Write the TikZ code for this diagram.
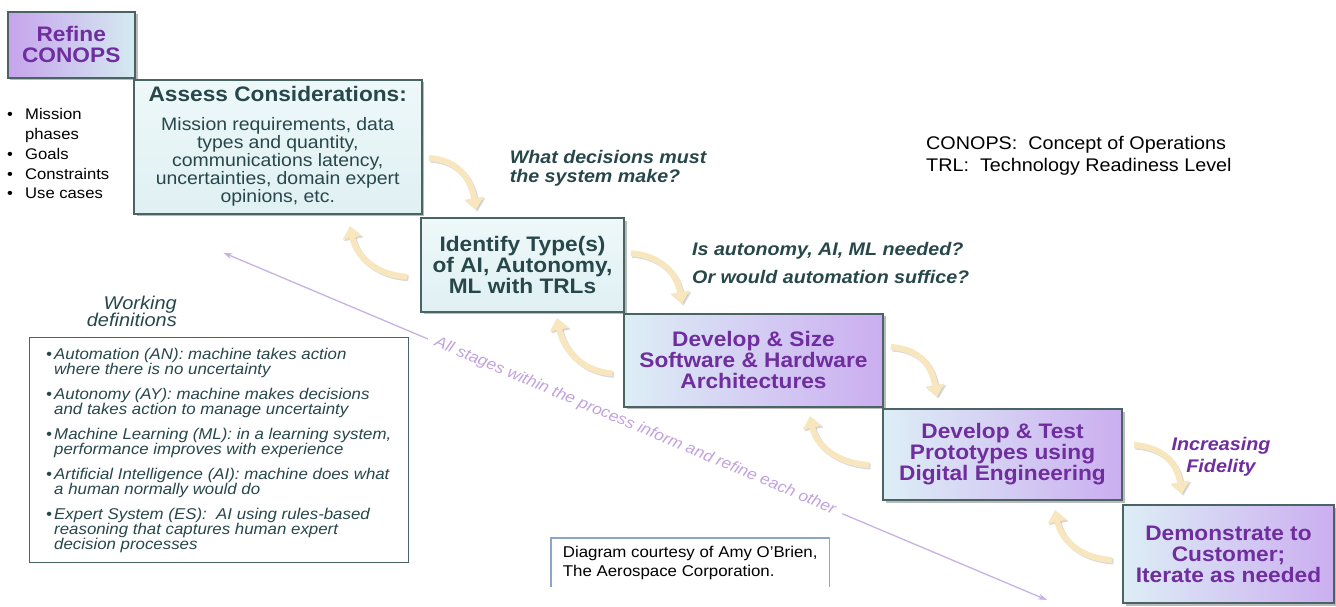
\documentclass[tikz,border=0pt]{standalone}
\usepackage{fontspec}
\setmainfont{Liberation Sans}[FakeStretch=1.08]
\usetikzlibrary{arrows.meta,shadows,calc}

\definecolor{slate}{HTML}{27474A}
\definecolor{plum}{HTML}{6F2D9E}
\definecolor{edge}{HTML}{4A6464}
\definecolor{tealfill}{HTML}{DFF0F3}
\definecolor{tealtop}{HTML}{EEF8F9}
\definecolor{bluelt}{HTML}{DDEEF6}
\definecolor{lilac}{HTML}{CBAEF0}
\definecolor{refleft}{HTML}{C6A3EC}
\definecolor{refright}{HTML}{D4EBF0}
\definecolor{cream}{HTML}{F8E6BF}
\definecolor{lavline}{HTML}{C9B0E3}
\definecolor{lavtext}{HTML}{C2A2DE}
\definecolor{capedge}{HTML}{8BA6C9}

\newcommand\fs[2]{\fontsize{#1}{#2}\selectfont}
\newcommand\dbul{\makebox[8pt][l]{•}}
\newcommand\dind{\hspace*{8pt}}
\newcommand\lbul{\makebox[18pt][l]{•}}
\newcommand\lind{\hspace*{18pt}}

\tikzset{
  stage/.style={draw=edge, line width=2pt, inner sep=0pt, align=center,
    drop shadow={shadow xshift=2.5pt, shadow yshift=-2.5pt, opacity=0.45, fill=black!60}},
  tealstage/.style={stage, top color=tealtop, bottom color=tealfill, text=slate},
  lilacstage/.style={stage, left color=bluelt, right color=lilac, text=plum,
    font=\fs{21}{21}\bfseries},
  flow/.style={draw=cream, line width=6pt, -{Triangle[length=12pt,width=19pt]}},
  flowshade/.style={draw=black!50, opacity=0.3, line width=6pt,
    -{Triangle[length=12pt,width=19pt]}, transform canvas={shift={(1.5pt,-1.5pt)}}},
  plain/.style={inner sep=0pt, align=left},
}

% curved feedback / feed-forward arrow between two stages
\newcommand\flowarrow[4]{%
  \draw[flowshade] #1 .. controls #2 and #3 .. #4;
  \draw[flow] #1 .. controls #2 and #3 .. #4;}

\begin{document}
\begin{tikzpicture}[x=1pt,y=-1pt]
\useasboundingbox (0,0) rectangle (1336,606);

% process loop spanning all stages
\coordinate (loopA) at (223.3,252.7);
\coordinate (loopB) at (1047,600);
\draw[draw=lavline, line width=1.3pt,
  {Stealth[length=9pt,width=6pt]}-{Stealth[length=9pt,width=6pt]}]
  (loopA) -- (loopB)
  node[midway, sloped, fill=white, inner xsep=8pt, inner ysep=1pt, text=lavtext,
       font=\fs{15.8}{16}\itshape] (loopnote)
  {All stages within the process inform and refine each other};

% stages
\node[stage, left color=refleft, right color=refright, text=plum,
  font=\fs{21}{21.7}\bfseries, minimum width=127.5pt, minimum height=66pt]
  (refine) at (71.25,44.5) {Refine\\CONOPS};

\node[tealstage, minimum width=287.5pt, minimum height=134pt, text width=270pt]
  (assess) at (277.75,146.5)
  {{\fs{21}{24}\bfseries\spaceskip=0.3em Assess Considerations:\par}\vspace{10pt}%
   \fs{18}{18.3}\spaceskip=0.29em Mission requirements, data\\ types and quantity,\\
   communications latency,\\ uncertainties, domain expert\\ opinions, etc.};

\node[tealstage, font=\fs{21}{21}\bfseries, minimum width=203pt, minimum height=93.5pt]
  (ident) at (522.5,264.75) {Identify Type(s)\\of AI, Autonomy,\\ML with TRLs};

\node[lilacstage, minimum width=259pt, minimum height=93pt]
  (dsize) at (753.5,360) {Develop \& Size\\Software \& Hardware\\Architectures};

\node[lilacstage, minimum width=239pt, minimum height=91pt]
  (dtest) at (1002.5,454.5) {Develop \& Test\\Prototypes using\\Digital Engineering};

\node[lilacstage, minimum width=211pt, minimum height=98pt]
  (demo) at (1228.5,554) {Demonstrate to\\Customer;\\Iterate as needed};

% forward steps
\flowarrow{($(assess.east)+(6.5,11.5)$)}{+(30,2)}{+(-5,-30)}{($(ident.north west)+(56,-7)$)}
\flowarrow{($(ident.east)+(6,-11.5)$)}{+(30,2)}{+(-5,-30)}{($(dsize.north west)+(59,-8.5)$)}
\flowarrow{($(dsize.east)+(7,-13)$)}{+(30,2)}{+(-5,-30)}{($(dtest.north west)+(55,-11)$)}
\flowarrow{($(dtest.east)+(11,-9.5)$)}{+(30,2)}{+(-5,-30)}{($(demo.north west)+(60,-10)$)}

% feedback steps
\flowarrow{($(ident.west)+(-13,12)$)}{+(-32,-2)}{+(6,30)}{($(assess.south)+(72.25,11.5)$)}
\flowarrow{($(dsize.west)+(-10.7,13.3)$)}{+(-32,-2)}{+(6,30)}{($(ident.south)+(34.5,5.5)$)}
\flowarrow{($(dtest.west)+(-13,10.5)$)}{+(-32,-2)}{+(6,30)}{($(dsize.south)+(56.5,8.5)$)}
\flowarrow{($(demo.west)+(-10,6)$)}{+(-32,-2)}{+(6,30)}{($(dtest.south)+(52.5,9)$)}

% CONOPS elements
\node[plain, anchor=north west, font=\fs{15.4}{19.9}] (conopsitems) at (7,108)
  {\lbul Mission\\\lind phases\\\lbul Goals\\\lbul Constraints\\\lbul Use cases};

% guiding questions
\node[plain, anchor=north west, text=slate, font=\fs{18.2}{19.4}\bfseries\itshape]
  (q1) at (509.6,150) {What decisions must\\the system make?};
\node[plain, anchor=north west, text=slate, font=\fs{18.2}{28.3}\bfseries\itshape]
  (q2) at (692,242) {Is autonomy, AI, ML needed?\\Or would automation suffice?};
\node[inner sep=0pt, align=center, anchor=north, text=plum, font=\fs{18.3}{21.7}\bfseries\itshape]
  (fid) at (1221,437) {Increasing\\Fidelity};

% abbreviations
\node[plain, anchor=north west, font=\fs{18.3}{21.7}] (abbr) at (926,136.5)
  {CONOPS:\ \ Concept of Operations\\TRL:\ \ Technology Readiness Level};

% working definitions
\node[inner sep=0pt, align=right, anchor=north east, text=slate, font=\fs{18.5}{17.7}\itshape]
  (wdhead) at (177,295.5) {Working\\definitions};
\node[draw=edge, line width=1.2pt, fill=white, minimum width=379pt, minimum height=225pt,
  inner sep=0pt, align=left, text=slate, font=\fs{15.6}{15}\itshape]
  (defs) at (218.8,450.35)
  {\dbul Automation (AN): machine takes action\\\dind where there is no uncertainty\\[10pt]
   \dbul Autonomy (AY): machine makes decisions\\\dind and takes action to manage uncertainty\\[10pt]
   \dbul Machine Learning (ML): in a learning system,\\\dind performance improves with experience\\[10pt]
   \dbul Artificial Intelligence (AI): machine does what\\\dind a human normally would do\\[10pt]
   \dbul Expert System (ES):\ \ AI using rules-based\\\dind reasoning that captures human expert\\\dind decision processes};

% credit
\node[inner sep=0pt, align=left, anchor=north west, minimum width=278pt, minimum height=49pt,
  font=\fs{15.6}{19.3}] (credit) at (551,538)
  {Diagram courtesy of Amy O’Brien,\\The Aerospace Corporation.};
\draw[draw=capedge, line width=1.2pt] (credit.south west) |- (credit.north east) -- (credit.south east);
\end{tikzpicture}
\end{document}
